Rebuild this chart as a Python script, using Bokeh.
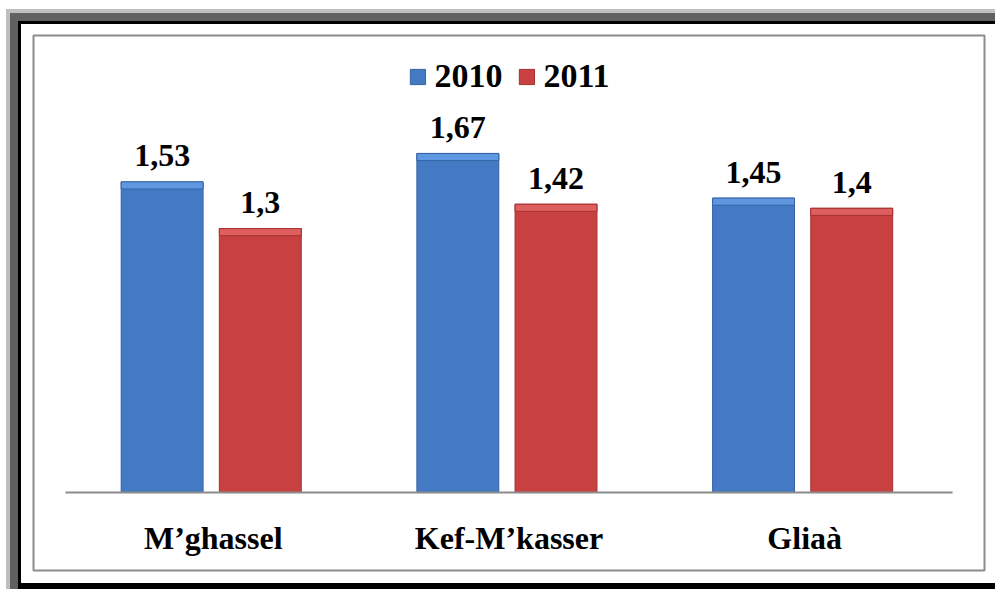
from bokeh.plotting import figure
from bokeh.models import FactorRange, Range1d, ColumnDataSource, Legend, LegendItem, InlineStyleSheet
from bokeh.transform import dodge
from bokeh.core.properties import value
from bokeh.embed import file_html
from bokeh.resources import INLINE

categories = ["M\u2019ghassel", "Kef-M\u2019kasser", "Glia\u00e0"]
series_names = ["2010", "2011"]
values_2010 = [1.53, 1.67, 1.45]
values_2011 = [1.30, 1.42, 1.40]
labels_2010 = ["1,53", "1,67", "1,45"]
labels_2011 = ["1,3", "1,42", "1,4"]

FONT_NAME = "Liberation Serif"
FONT = value(FONT_NAME)
BLUE, BLUE_TOP, BLUE_EDGE = "#4479c4", "#5f97e0", "#3563a6"
RED, RED_TOP, RED_EDGE = "#c94040", "#df5f5f", "#a33232"

bevel = 0.035
src = ColumnDataSource(dict(
    cat=categories,
    v10=values_2010, v11=values_2011,
    b10=[v - bevel for v in values_2010], b11=[v - bevel for v in values_2011],
    l10=labels_2010, l11=labels_2011,
))

p = figure(width=989, height=580, x_range=FactorRange(*categories, range_padding=0.072),
           y_range=Range1d(-0.384, 2.251), output_backend="svg", toolbar_location=None,
           min_border_left=27, min_border_right=11, min_border_top=26, min_border_bottom=19)
p.margin = (9, 0, 0, 6)
p.xaxis.visible = False
p.yaxis.visible = False
p.grid.visible = False
p.background_fill_color = "white"
p.border_fill_color = None
p.outline_line_color = "#8c8c8c"
p.outline_line_width = 2


def strip(color, pos, size):
    return f"linear-gradient({color}, {color}) {pos} / {size} no-repeat"


frame_bg = ", ".join([
    strip("#bfbfbf", "left top", "4px 100%"), strip("#bfbfbf", "left top", "100% 4px"),
    strip("#606060", "left top", "12px 100%"), strip("#606060", "left top", "100% 12px"),
    strip("#000000", "left top", "15px 100%"), strip("#000000", "left top", "100% 15px"),
    strip("#000000", "left bottom", "100% 6px"), "#ffffff"])
p.stylesheets = [InlineStyleSheet(css=":host { background: " + frame_bg + "; }")]

off_a, off_b, w = -0.173, 0.159, 0.277
r10 = p.vbar(x=dodge("cat", off_a, range=p.x_range), top="v10", bottom=0, width=w, source=src,
             fill_color=BLUE, line_color=BLUE_EDGE, line_width=1)
r11 = p.vbar(x=dodge("cat", off_b, range=p.x_range), top="v11", bottom=0, width=w, source=src,
             fill_color=RED, line_color=RED_EDGE, line_width=1)
p.vbar(x=dodge("cat", off_a, range=p.x_range), top="v10", bottom="b10", width=w, source=src,
       fill_color=BLUE_TOP, line_color=BLUE_EDGE, line_width=1)
p.vbar(x=dodge("cat", off_b, range=p.x_range), top="v11", bottom="b11", width=w, source=src,
       fill_color=RED_TOP, line_color=RED_EDGE, line_width=1)

# baseline (category axis line)
p.segment(x0=[0], x1=[3], y0=[0], y1=[0], line_color="#8c8c8c", line_width=2)

# value labels
p.text(x=dodge("cat", off_a, range=p.x_range), y="v10", text="l10", source=src, y_offset=-26,
       text_align="center", text_baseline="alphabetic", text_font=FONT,
       text_font_size="32px", text_font_style="bold", text_color="black")
p.text(x=dodge("cat", off_b, range=p.x_range), y="v11", text="l11", source=src, y_offset=-26,
       text_align="center", text_baseline="alphabetic", text_font=FONT,
       text_font_size="32px", text_font_style="bold", text_color="black")

# category labels
p.text(x="cat", y=0, text="cat", source=src, y_offset=45,
       text_align="center", text_baseline="alphabetic", text_font=FONT,
       text_font_size="32px", text_font_style="bold", text_color="black")

legend = Legend(items=[LegendItem(label=series_names[0], renderers=[r10]),
                       LegendItem(label=series_names[1], renderers=[r11])],
                orientation="horizontal", location="top", margin=22, padding=0,
                spacing=14, glyph_width=19, glyph_height=19, label_standoff=8,
                label_text_font=FONT_NAME, label_text_font_size="34px",
                label_text_font_style="bold", label_text_color="black",
                border_line_color=None, background_fill_alpha=0)
p.add_layout(legend, "center")

open("out.html", "w").write(file_html(p, INLINE))
